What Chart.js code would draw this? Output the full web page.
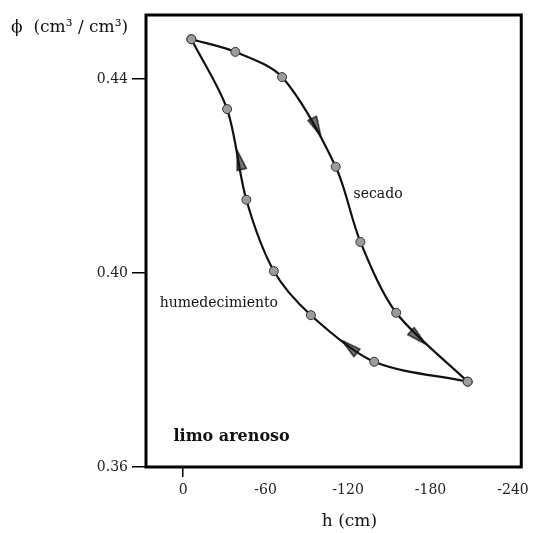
<!DOCTYPE html>
<html>
<head>
<meta charset="utf-8">
<script src="https://cdn.jsdelivr.net/npm/chart.js@4.4.1/dist/chart.umd.min.js"></script>
<style>
  body { margin: 0; background: #fff; }
</style>
</head>
<body>
<canvas id="hysteresisChart" width="534" height="533"></canvas>
<script>
// secado (drying) branch, h in cm, phi in cm3/cm3
const dryH = [-6, -38, -72, -111, -129, -155, -207];
const dryPhi = [0.4482, 0.4456, 0.4404, 0.4219, 0.4064, 0.3918, 0.3776];

// humedecimiento (wetting) branch
const wetH = [-207, -139, -93, -66, -46, -32, -6];
const wetPhi = [0.3776, 0.3817, 0.3913, 0.4004, 0.4151, 0.4338, 0.4482];

// direction arrows on the curves, each pointing to the next point of its branch
const arrowH = [-97, -171, -121, -41];
const arrowPhi = [0.4301, 0.3867, 0.3848, 0.4233];
const arrowCurve = ["dry", "dry", "wet", "wet"];
const arrowNext = [3, 6, 2, 5];

const xTicks = [0, -60, -120, -180, -240];
const yTicks = [0.36, 0.40, 0.44];

const serif = "'DejaVu Serif', 'Liberation Serif', serif";

function toPoints(xs, ys) {
  let pts = [];
  for (let i = 0; i < xs.length; i++) {
    pts.push({ x: xs[i], y: ys[i] });
  }
  return pts;
}

// narrow arrow head pointing up, rotated by chart.js
function makeArrow() {
  let cv = document.createElement("canvas");
  cv.width = 11;
  cv.height = 21;
  let c = cv.getContext("2d");
  c.beginPath();
  c.moveTo(5.5, 0.8);
  c.lineTo(10.2, 20.2);
  c.lineTo(0.8, 20.2);
  c.closePath();
  c.fillStyle = "#747474";
  c.fill();
  c.strokeStyle = "#111";
  c.lineWidth = 1.3;
  c.stroke();
  return cv;
}

function arrowAngle(ctx) {
  let chart = ctx.chart;
  let i = ctx.dataIndex;
  if (i === undefined || !chart.scales.x) return 0;
  let xs = arrowCurve[i] == "dry" ? dryH : wetH;
  let ys = arrowCurve[i] == "dry" ? dryPhi : wetPhi;
  let k = arrowNext[i];
  let dx = chart.scales.x.getPixelForValue(xs[k]) - chart.scales.x.getPixelForValue(arrowH[i]);
  let dy = chart.scales.y.getPixelForValue(ys[k]) - chart.scales.y.getPixelForValue(arrowPhi[i]);
  return Math.atan2(dx, -dy) * 180 / Math.PI;
}

// frame + free text labels
const annotations = {
  id: "annotations",
  beforeDatasetsDraw(chart) {
    let c = chart.ctx;
    let a = chart.chartArea;
    c.save();
    c.strokeStyle = "#000";
    c.lineWidth = 3;
    c.strokeRect(a.left, a.top, a.right - a.left, a.bottom - a.top);
    c.restore();
  },
  afterDraw(chart) {
    let c = chart.ctx;
    let x = chart.scales.x;
    let y = chart.scales.y;
    c.save();
    c.fillStyle = "#111";
    c.textBaseline = "middle";
    c.textAlign = "left";

    c.font = "17px " + serif;
    c.fillText("\u03D5  (cm\u00B3 / cm\u00B3)", 11, 28);

    c.font = "14px " + serif;
    c.fillText("secado", x.getPixelForValue(-124), y.getPixelForValue(0.4162));
    c.fillText("humedecimiento", x.getPixelForValue(17), y.getPixelForValue(0.3938));

    c.font = "bold 16px " + serif;
    c.fillText("limo arenoso", x.getPixelForValue(7), y.getPixelForValue(0.3662));

    c.font = "17px " + serif;
    c.textAlign = "center";
    c.fillText("h (cm)", x.getPixelForValue(-121), 522);
    c.restore();
  },
};

let ctx = document.querySelector("#hysteresisChart").getContext("2d");

let chart = new Chart(ctx, {
  type: "scatter",
  data: {
    datasets: [
      {
        label: "secado",
        data: toPoints(dryH, dryPhi),
        showLine: true,
        tension: 0.3,
        borderColor: "#111",
        borderWidth: 2.2,
        pointRadius: 4.5,
        pointBackgroundColor: "#9c9c9c",
        pointBorderColor: "#333",
        pointBorderWidth: 1,
      },
      {
        label: "humedecimiento",
        data: toPoints(wetH, wetPhi),
        showLine: true,
        tension: 0.3,
        borderColor: "#111",
        borderWidth: 2.2,
        pointRadius: 4.5,
        pointBackgroundColor: "#9c9c9c",
        pointBorderColor: "#333",
        pointBorderWidth: 1,
      },
      {
        label: "flechas",
        data: toPoints(arrowH, arrowPhi),
        showLine: false,
        pointStyle: makeArrow(),
        pointRadius: 8,
        rotation: arrowAngle,
      },
    ],
  },
  options: {
    responsive: false,
    animation: false,
    layout: {
      padding: { top: 15, right: 12, left: 0, bottom: 0 },
    },
    plugins: {
      legend: { display: false },
      tooltip: { enabled: false },
    },
    scales: {
      x: {
        type: "linear",
        reverse: true,
        min: -246,
        max: 27,
        afterFit: (scale) => {
          scale.height = 66;
        },
        afterBuildTicks: (scale) => {
          scale.ticks = xTicks.map((v) => ({ value: v }));
        },
        border: { display: false },
        grid: {
          drawOnChartArea: false,
          tickLength: 10,
          lineWidth: 1.5,
          color: (c) => (c.tick && c.tick.value === 0 ? "#000" : "rgba(0,0,0,0)"),
        },
        ticks: {
          padding: 5,
          color: "#222",
          font: { family: serif, size: 14 },
          callback: (v) => String(v),
        },
      },
      y: {
        type: "linear",
        min: 0.36,
        max: 0.4532,
        afterFit: (scale) => {
          scale.width = 146;
        },
        afterBuildTicks: (scale) => {
          scale.ticks = yTicks.map((v) => ({ value: v }));
        },
        border: { display: false },
        grid: {
          drawOnChartArea: false,
          tickLength: 14,
          lineWidth: 1.5,
          color: "#000",
        },
        ticks: {
          padding: 4,
          color: "#222",
          font: { family: serif, size: 14 },
          callback: (v) => v.toFixed(2),
        },
      },
    },
  },
  plugins: [annotations],
});
</script>
</body>
</html>
